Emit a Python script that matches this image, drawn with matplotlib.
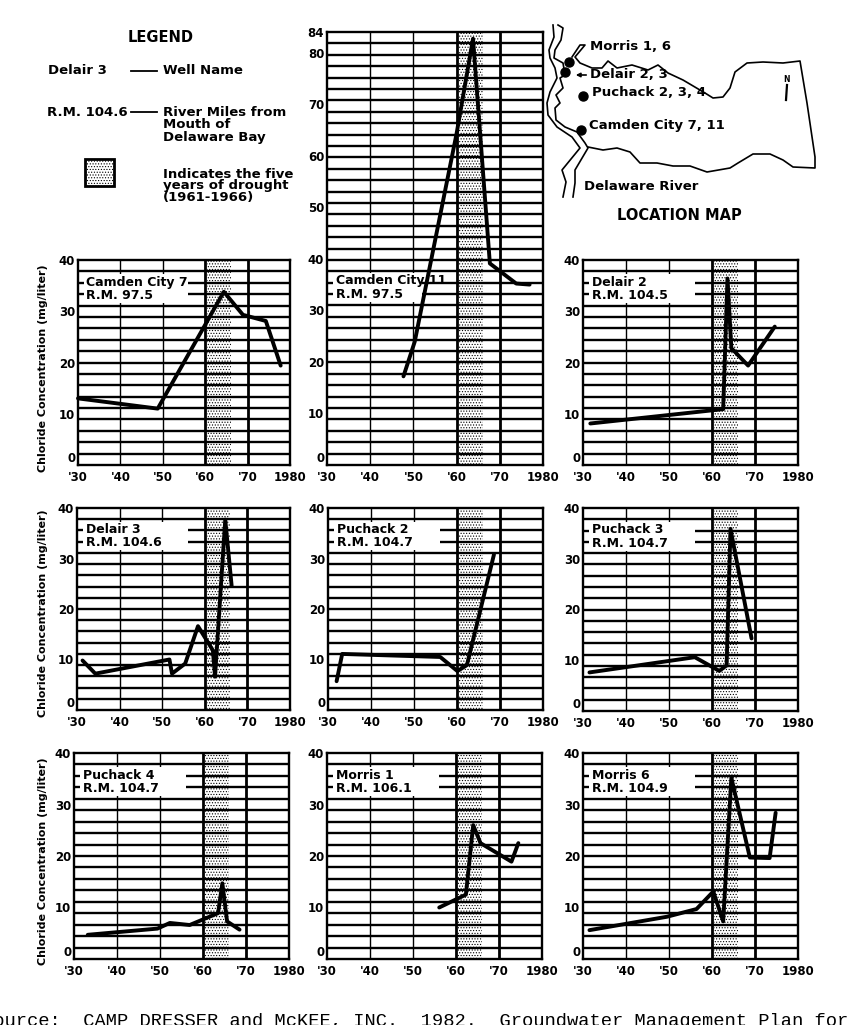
import numpy as np
import matplotlib
matplotlib.use("Agg")
import matplotlib.pyplot as plt
from matplotlib.patches import Rectangle

# -------------------------------
# Data
# -------------------------------

camden7_years = [1930, 1948.8, 1964.4, 1968.9, 1974.3, 1977.8]
camden7_conc = [13, 11, 33.8, 29.3, 28.1, 19.4]

camden11_years = [1947.7, 1950.3, 1960, 1963.8, 1967.7, 1973.8, 1976.9]
camden11_conc = [17.2, 23.9, 64.3, 82.7, 39.1, 35.2, 35]

delair2_years = [1931.7, 1962.6, 1963.6, 1964.5, 1968.4, 1974.6]
delair2_conc = [8.1, 10.9, 36.4, 22.8, 19.4, 27]

delair3_years = [1931.3, 1934.3, 1951.7, 1952.3, 1955.4, 1958.4, 1961.9, 1962.4, 1964.8, 1966.3]
delair3_conc = [9.8, 7.2, 10, 7.2, 9.2, 16.6, 11.8, 6.6, 37.7, 24.6]

puchack2_years = [1932, 1933.3, 1956.1, 1960.1, 1962.3, 1968.6]
puchack2_conc = [5.7, 11.1, 10.5, 7.7, 8.9, 30.8]

puchack3_years = [1931.5, 1956, 1961.7, 1963.4, 1964.3, 1969.2]
puchack3_conc = [7.6, 10.6, 7.9, 9, 35.9, 14.3]

puchack4_years = [1933.2, 1949.4, 1952.3, 1956.9, 1963.5, 1964.5, 1965.6, 1968.5]
puchack4_conc = [4.7, 5.9, 7, 6.6, 8.9, 14.7, 7.3, 5.7]

morris1_years = [1956.1, 1962.3, 1964, 1965.7, 1972.9, 1974.5]
morris1_conc = [10, 12.5, 26, 22.5, 18.9, 22.5]

morris6_years = [1931.5, 1949.5, 1956.4, 1960.3, 1962.6, 1964.5, 1968.8, 1973.4, 1974.8]
morris6_conc = [5.6, 8.2, 9.7, 13.1, 7.3, 35.2, 19.7, 19.6, 28.4]

decade_ticks = [1930, 1940, 1950, 1960, 1970, 1980]
decade_labels = ["'30", "'40", "'50", "'60", "'70", "1980"]
conc_ticks = [0, 10, 20, 30, 40]
tall_conc_ticks = [0, 10, 20, 30, 40, 50, 60, 70, 80, 84]

drought_start = 1960.5
drought_end = 1966

# map outlines, in reference pixels
left_bank = [(553, 25), (554, 37), (549, 50), (550, 58), (555, 68), (557, 78), (550, 92),
             (547, 103), (548, 115), (557, 127), (572, 137), (580, 148), (562, 170),
             (566, 182), (563, 197)]
right_bank = [(558, 25), (563, 28), (561, 40), (555, 50), (554, 58), (563, 63), (565, 75),
              (560, 78), (563, 88), (556, 95), (560, 103), (555, 108), (556, 120),
              (565, 127), (577, 132), (585, 143), (588, 148), (575, 170), (575, 183), (573, 197)]
boundary = [(572, 57), (580, 45), (585, 45), (575, 57), (580, 63), (592, 68), (602, 68),
            (608, 61), (617, 68), (632, 65), (648, 70), (658, 65), (668, 73), (683, 80),
            (705, 93), (713, 98), (723, 97), (730, 88), (735, 72), (747, 63), (763, 62),
            (783, 63), (800, 61), (807, 103), (815, 157), (815, 168), (793, 167), (783, 160),
            (770, 154), (753, 154), (738, 163), (730, 168), (707, 172), (690, 166), (673, 166),
            (657, 163), (640, 163), (630, 152), (617, 148), (603, 150), (588, 147)]
well_dots_x = [569, 565, 583, 581]
well_dots_y = [62, 72, 96, 130]

# -------------------------------
# Figure setup
# -------------------------------

plt.rcParams["font.family"] = "DejaVu Sans"
plt.rcParams["font.weight"] = "bold"
plt.rcParams["hatch.linewidth"] = 0.5

W = 860
H = 1025
fig = plt.figure(figsize=(W / 100, H / 100), dpi=100, facecolor="white")


def panel(box, years, conc, name, miles, ymax=40, yticks=conc_ticks, n_lines=18, box_right=1956):
    left, top, right, bottom = box
    ax = fig.add_axes([left / W, 1 - bottom / H, (right - left) / W, (bottom - top) / H])
    ax.set_xlim(1930, 1980)
    ax.set_ylim(0, ymax)

    ax.axvspan(drought_start, drought_end, facecolor="white", edgecolor="black",
               hatch="......", linewidth=0, zorder=1)

    for k in range(1, n_lines):
        ax.axhline(k * ymax / n_lines, color="black", lw=1.7, zorder=2)
    for year in [1940, 1950]:
        ax.axvline(year, color="black", lw=1, zorder=2)
    for year in [1960, 1970]:
        ax.axvline(year, color="black", lw=2, zorder=2)

    # white patch behind the well name
    ax.add_patch(Rectangle((1931.3, 31.6), box_right - 1931.3, 5.6, facecolor="white",
                           edgecolor="none", zorder=3))
    ax.text(1932, 35.7, name, fontsize=9, va="center", zorder=4)
    ax.text(1932, 33.1, miles, fontsize=9, va="center", zorder=4)

    ax.plot(years, conc, color="black", lw=2.8, solid_joinstyle="round",
            solid_capstyle="round", zorder=5, clip_on=False)

    ax.set_xticks(decade_ticks)
    ax.set_xticklabels(decade_labels)
    ax.set_yticks(yticks)
    ax.tick_params(axis="x", length=0, pad=4, labelsize=8.5)
    ax.tick_params(axis="y", length=0, pad=2, labelsize=8.5)
    # the 0 sits just above the '30
    ax.get_yticklabels()[0].set_verticalalignment("bottom")
    for spine in ax.spines.values():
        spine.set_linewidth(1.7)
    return ax


# -------------------------------
# Panels
# -------------------------------

panel((78, 260, 290, 465), camden7_years, camden7_conc, "Camden City 7", "R.M. 97.5")
panel((327, 32, 543, 465), camden11_years, camden11_conc, "Camden City 11", "R.M. 97.5",
      ymax=84, yticks=tall_conc_ticks, n_lines=38, box_right=1952)
panel((583, 260, 798, 465), delair2_years, delair2_conc, "Delair 2", "R.M. 104.5")

panel((77, 508, 290, 710), delair3_years, delair3_conc, "Delair 3", "R.M. 104.6")
panel((328, 508, 543, 710), puchack2_years, puchack2_conc, "Puchack 2", "R.M. 104.7")
panel((583, 508, 798, 711), puchack3_years, puchack3_conc, "Puchack 3", "R.M. 104.7")

panel((74, 753, 289, 959), puchack4_years, puchack4_conc, "Puchack 4", "R.M. 104.7")
panel((327, 753, 542, 959), morris1_years, morris1_conc, "Morris 1", "R.M. 106.1")
panel((583, 753, 798, 959), morris6_years, morris6_conc, "Morris 6", "R.M. 104.9")

# -------------------------------
# Overlay for legend, map, source (pixel coordinates)
# -------------------------------

over = fig.add_axes([0, 0, 1, 1], zorder=-1)
over.set_xlim(0, W)
over.set_ylim(H, 0)
over.axis("off")

for label_y in [368, 613, 861]:
    over.text(43, label_y, "Chloride Concentration (mg/liter)", rotation=90, fontsize=8,
              ha="center", va="center")

# legend
over.text(161, 38, "LEGEND", fontsize=10.5, ha="center", va="center")
over.text(48, 71, "Delair 3", fontsize=9.5, va="center")
over.plot([131, 157], [71, 71], color="black", lw=1.3)
over.text(163, 71, "Well Name", fontsize=9.5, va="center")
over.text(47, 112, "R.M. 104.6", fontsize=9.5, va="center")
over.plot([131, 157], [112, 112], color="black", lw=1.3)
for text_y, line in zip([112, 124, 137], ["River Miles from", "Mouth of", "Delaware Bay"]):
    over.text(163, text_y, line, fontsize=9.5, va="center")
over.add_patch(Rectangle((85, 159), 29, 27, facecolor="white", edgecolor="black",
                         hatch="......", linewidth=2))
for text_y, line in zip([174, 186, 198], ["Indicates the five", "years of drought", "(1961-1966)"]):
    over.text(163, text_y, line, fontsize=9.5, va="center")

# location map
for outline in [left_bank, right_bank, boundary]:
    xs, ys = zip(*outline)
    over.plot(xs, ys, color="black", lw=1.2)
over.plot(well_dots_x, well_dots_y, "o", color="black", ms=6.5)
over.annotate("", xy=(573, 75), xytext=(589, 75),
              arrowprops=dict(arrowstyle="-|>", color="black", lw=1.2, mutation_scale=6))
over.plot([787, 786], [85, 100], color="black", lw=1.6)
over.text(787, 79, "N", fontsize=5.5, ha="center", va="center")
over.text(590, 47, "Morris 1, 6", fontsize=9.5, va="center")
over.text(590, 75, "Delair 2, 3", fontsize=9.5, va="center")
over.text(592, 93, "Puchack 2, 3, 4", fontsize=9.5, va="center")
over.text(589, 125, "Camden City 7, 11", fontsize=9.5, va="center")
over.text(584, 186, "Delaware River", fontsize=9.5, va="center")
over.text(679, 215, "LOCATION MAP", fontsize=10.5, ha="center", va="center")

# source line, cut off by the page edge as in the scan
over.text(-18, 1022, "Source:  CAMP DRESSER and McKEE, INC.  1982.  Groundwater Management Plan for",
          family="Liberation Mono", fontsize=13.5, fontweight="normal", va="center", clip_on=False)

fig.savefig("out.png", dpi=100)
